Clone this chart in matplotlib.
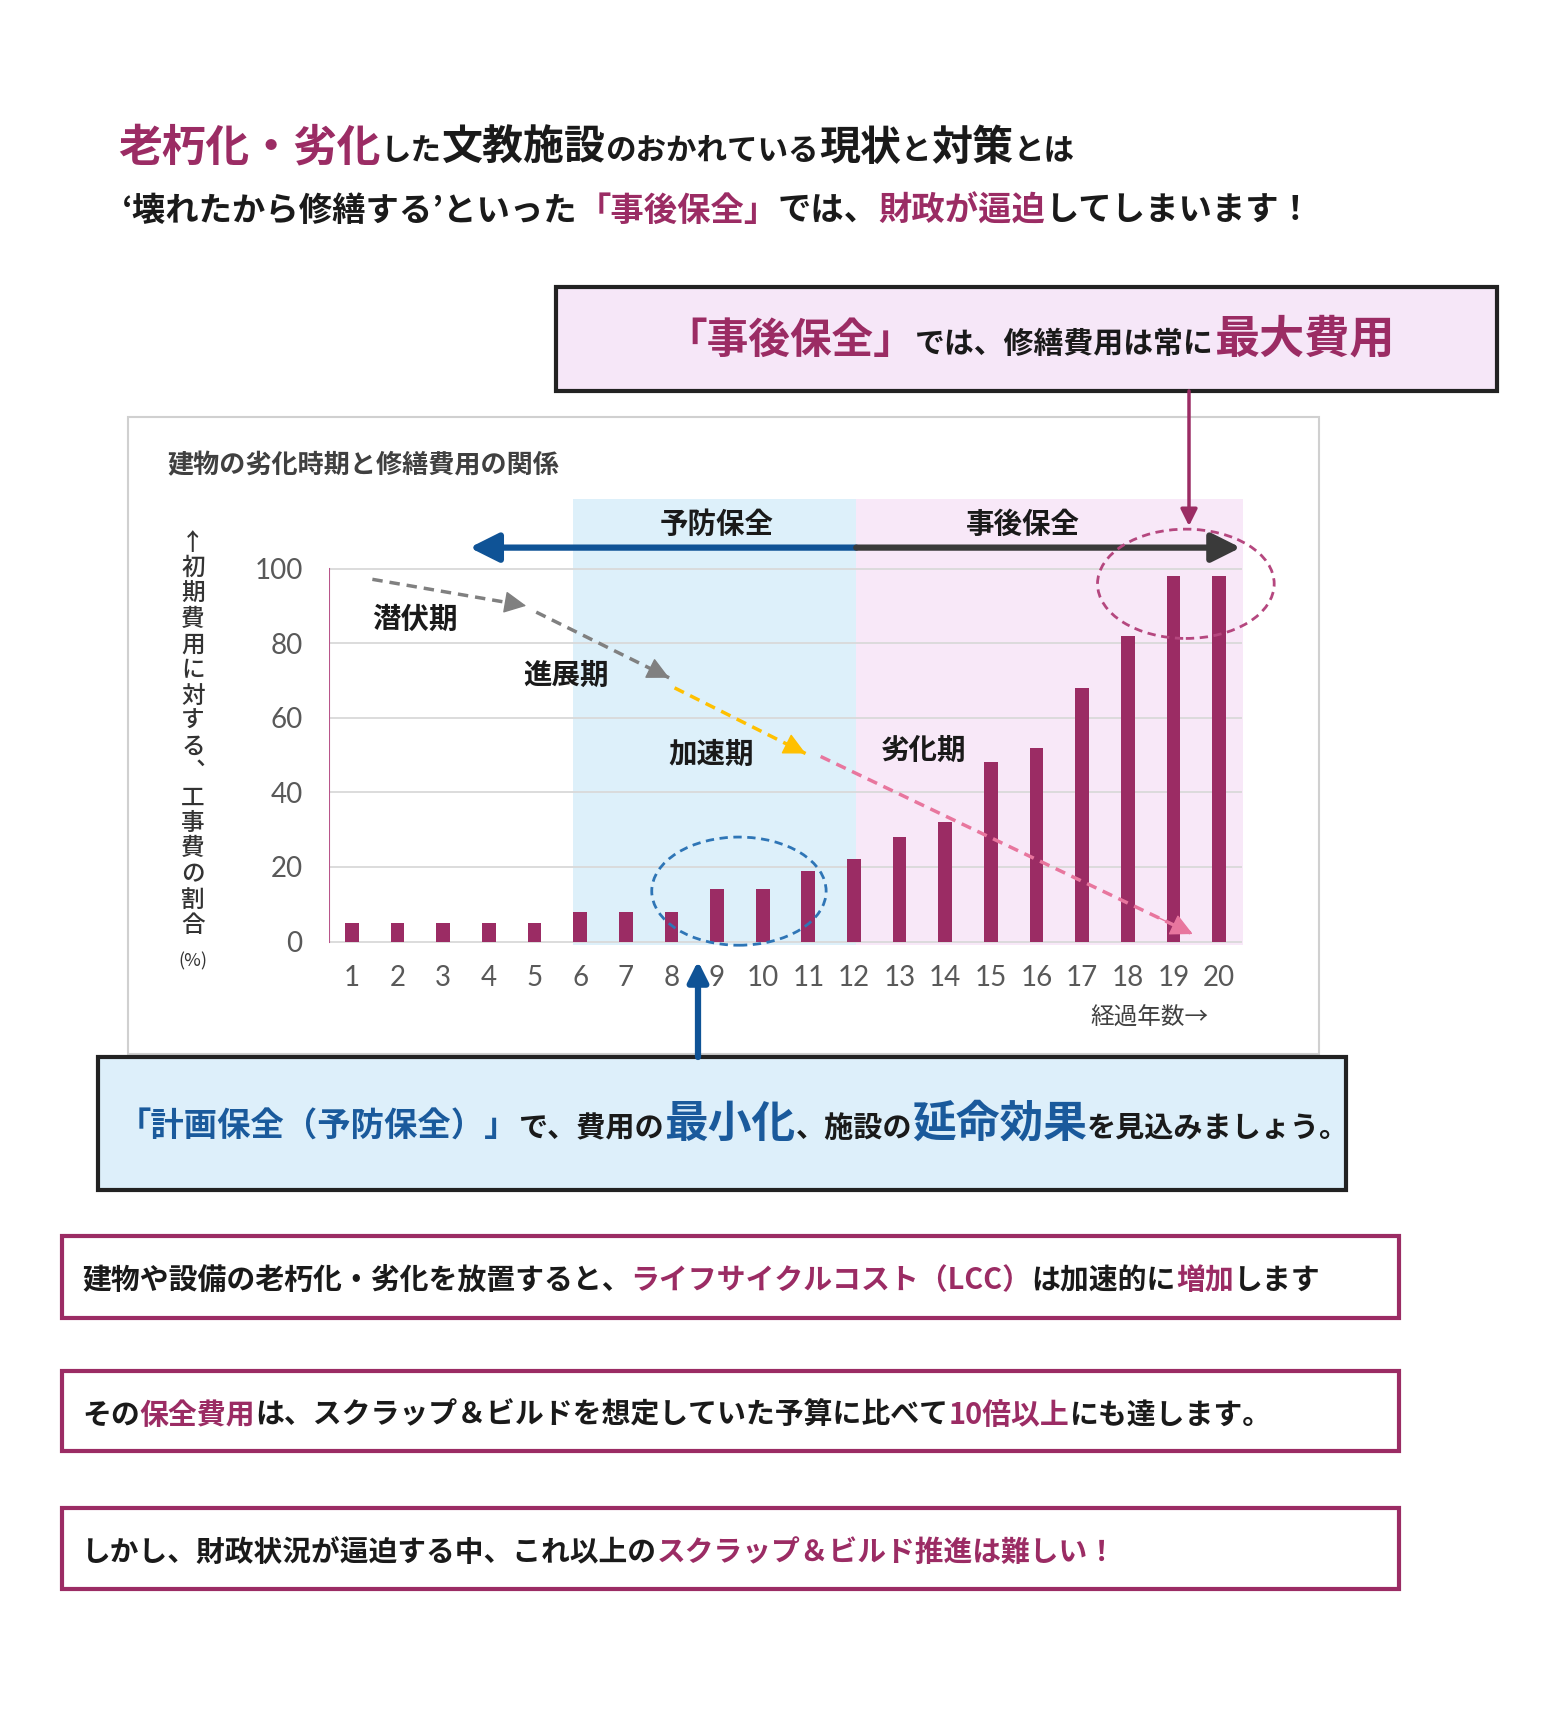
import matplotlib
matplotlib.use('Agg')
import matplotlib.pyplot as plt
from matplotlib.patches import Rectangle, Ellipse, FancyArrowPatch

# Figure size in pixels (dpi = 100)
W, H = 1558, 1712

# Chart data: years elapsed and repair cost as % of the initial cost
years = [1, 2, 3, 4, 5, 6, 7, 8, 9, 10, 11, 12, 13, 14, 15, 16, 17, 18, 19, 20]
cost_ratio = [5, 5, 5, 5, 5, 8, 8, 8, 14, 14, 19, 22, 28, 32, 48, 52, 68, 82, 98, 98]
y_ticks = [0, 20, 40, 60, 80, 100]
phase_names = ['潜伏期', '進展期', '加速期', '劣化期']
maintenance_names = ['予防保全', '事後保全']
y_label = '↑初期費用に対する︑工事費の割合'

MAGENTA = '#9B2C64'
BLUE = '#1A5A9C'
BLACK = '#1A1A1A'
GREY = '#404040'

plt.rcParams['font.family'] = ['Noto Sans CJK JP', 'DejaVu Sans']

fig = plt.figure(figsize=(W / 100, H / 100), dpi=100)
renderer = fig.canvas.get_renderer()


# pixel -> figure fraction
def fx(x):
    return x / W


def fy(y):
    return 1 - y / H


def draw_runs(x, y, parts, align='left'):
    # Draw a line of text made of differently coloured / sized pieces
    texts = []
    for s, color, size in parts:
        t = fig.text(0, fy(y), s, color=color, fontsize=size, fontweight='bold',
                     va='baseline', ha='left', zorder=5)
        texts.append(t)
    widths = [t.get_window_extent(renderer).width for t in texts]
    if align == 'center':
        x = x - sum(widths) / 2
    for t, w in zip(texts, widths):
        t.set_x(fx(x))
        x += w


def box(x0, y0, x1, y1, fc, ec, lw, z=2):
    fig.add_artist(Rectangle((fx(x0), fy(y1)), (x1 - x0) / W, (y1 - y0) / H,
                             transform=fig.transFigure, fc=fc, ec=ec, lw=lw, zorder=z))


def fig_arrow(x0, y0, x1, y1, color, lw, scale):
    fig.add_artist(FancyArrowPatch((fx(x0), fy(y0)), (fx(x1), fy(y1)), transform=fig.transFigure,
                                   arrowstyle='-|>', mutation_scale=scale, lw=lw, color=color,
                                   shrinkA=0, shrinkB=0, zorder=4))


def dashed_arrow(ax, start, end, color):
    # dashed shaft + solid filled head
    ax.plot([start[0], end[0]], [start[1], end[1]], color=color, lw=2.5,
            ls=(0, (3, 2)), zorder=4)
    near = (start[0] + 0.9 * (end[0] - start[0]), start[1] + 0.9 * (end[1] - start[1]))
    ax.annotate('', xy=end, xytext=near,
                arrowprops=dict(arrowstyle='-|>,head_length=0.7,head_width=0.35', color=color,
                                lw=1, mutation_scale=20, shrinkA=0, shrinkB=0), zorder=4)


def main():
    # --- Headline ---
    draw_runs(118, 160, [('老朽化・劣化', MAGENTA, 31.5), ('した', BLACK, 22), ('文教施設', BLACK, 29.5),
                         ('のおかれている', BLACK, 22), ('現状', BLACK, 29.5), ('と', BLACK, 22),
                         ('対策', BLACK, 29.5), ('とは', BLACK, 22)])
    draw_runs(122, 221, [('‘壊れたから修繕する’といった', BLACK, 24), ('「事後保全」', MAGENTA, 24),
                         ('では、', BLACK, 24), ('財政が逼迫', MAGENTA, 24),
                         ('してしまいます！', BLACK, 24)])

    # --- Top callout box ---
    box(556, 287, 1497, 391, '#F6E7F8', '#222222', 3)
    draw_runs(1030, 353, [('「事後保全」', MAGENTA, 30), ('では、修繕費用は常に', BLACK, 21.5),
                          ('最大費用', MAGENTA, 32.5)], align='center')

    # --- Chart frame and title ---
    box(128, 417, 1319, 1054, 'white', '#D0D0D0', 1.5, z=-1)
    fig.text(fx(167), fy(466), '建物の劣化時期と修繕費用の関係', fontsize=18.8, fontweight='bold',
             color=GREY, va='center', ha='left')
    # vertical y-axis caption, one character per cell
    for i, ch in enumerate(y_label):
        fig.text(fx(193), fy(543 + i * 25.5), ch, fontsize=17, color='#333333',
                 fontweight='medium', ha='center', va='center')
    fig.text(fx(193), fy(961), '(%)', fontsize=13, color='#333333', ha='center', va='center')

    # --- Bar chart axes ---
    y_lo, y_hi = -3, 122
    y0_px, unit_px = 941.5, 3.73
    bottom_px = y0_px - y_lo * unit_px
    top_px = y0_px - y_hi * unit_px
    ax = fig.add_axes([fx(329), fy(bottom_px), 913 / W, (bottom_px - top_px) / H])
    ax.set_facecolor('none')
    ax.set_xlim(0.5, 20.5)
    ax.set_ylim(y_lo, y_hi)
    for s in ax.spines.values():
        s.set_visible(False)

    # maintenance periods (shaded)
    ax.fill_between([5.85, 12.05], -1, 118.5, color='#DDF0FA', lw=0, zorder=0)
    ax.fill_between([12.05, 20.6], -1, 118.5, color='#F8E8F8', lw=0, zorder=0)

    ax.hlines(y_ticks, 0.5, 20.5, color='#D9D9D9', lw=1.3, zorder=1)
    ax.plot([0.5, 0.5], [0, 100], color='#B8558A', lw=1.5, zorder=2)
    ax.bar(years, cost_ratio, width=0.3, color=MAGENTA, zorder=3)

    ax.set_yticks(y_ticks)
    ax.set_yticklabels([str(v) for v in y_ticks], fontfamily='Lato')
    ax.set_xticks(years)
    ax.set_xticklabels([str(v) for v in years], fontfamily='Lato')
    ax.tick_params(axis='y', length=0, pad=19, labelsize=20, labelcolor='#595959')
    ax.tick_params(axis='x', length=0, pad=9, labelsize=20, labelcolor='#595959')
    ax.text(19.77, -20.5, '経過年数→', fontsize=17, color=GREY, ha='right', va='center')

    # preventive / reactive maintenance arrows
    ax.annotate('', xy=(3.58, 105.6), xytext=(12.05, 105.6),
                arrowprops=dict(arrowstyle='-|>,head_length=0.7,head_width=0.35', color='#0F5396',
                                lw=4.5, mutation_scale=25, shrinkA=0, shrinkB=0), zorder=4)
    ax.annotate('', xy=(20.47, 105.6), xytext=(12.05, 105.6),
                arrowprops=dict(arrowstyle='-|>,head_length=0.7,head_width=0.35', color='#3A3A3A',
                                lw=4.5, mutation_scale=25, shrinkA=0, shrinkB=0), zorder=4)
    ax.text(9.0, 111.7, maintenance_names[0], fontsize=20.5, fontweight='bold', color=BLACK,
            ha='center', va='center')
    ax.text(15.69, 111.7, maintenance_names[1], fontsize=20.5, fontweight='bold', color=BLACK,
            ha='center', va='center')

    # deterioration phase arrows
    segs = [((1.45, 97.1), (4.82, 90.0), '#808080'),
            ((5.04, 88.3), (7.95, 70.7), '#808080'),
            ((8.07, 68.0), (10.94, 50.4), '#FFC000'),
            ((11.27, 49.6), (19.42, 2.0), '#E8769E')]
    for start, end, c in segs:
        dashed_arrow(ax, start, end, c)
    label_pos = [(2.39, 86.2), (5.7, 71.3), (8.88, 50.1), (13.52, 51.0)]
    for name, (px, py) in zip(phase_names, label_pos):
        ax.text(px, py, name, fontsize=20.5, fontweight='bold', color=BLACK,
                ha='center', va='center', zorder=5)

    # dashed highlight ellipses
    ax.add_patch(Ellipse((9.48, 13.5), 3.82, 29, fill=False, ec='#2E75B6', lw=2,
                         ls=(0, (3, 2)), zorder=4, clip_on=False))
    ax.add_patch(Ellipse((19.27, 95.9), 3.87, 29.3, fill=False, ec='#B5477F', lw=2,
                         ls=(0, (3, 2)), zorder=4, clip_on=False))

    # arrows linking the callout boxes to the chart
    fig_arrow(1189, 391, 1189, 526, MAGENTA, 2.5, 25)
    fig_arrow(698, 1057, 698, 961, '#0F5396', 4.5, 30)

    # --- Bottom blue callout ---
    box(98, 1057, 1346, 1190, '#DDEFFA', '#222222', 3)
    draw_runs(118, 1137, [('「計画保全（予防保全）」', BLUE, 24), ('で、費用の', BLACK, 21),
                          ('最小化', BLUE, 31.5), ('、施設の', BLACK, 21), ('延命効果', BLUE, 31.5),
                          ('を見込みましょう。', BLACK, 21)])

    # --- Three message boxes ---
    box(62, 1236, 1399, 1318, 'white', MAGENTA, 3)
    draw_runs(82, 1289, [('建物や設備の老朽化・劣化を放置すると、', BLACK, 20.8),
                         ('ライフサイクルコスト（LCC）', MAGENTA, 20.8), ('は加速的に', BLACK, 20.8),
                         ('増加', MAGENTA, 20.8), ('します', BLACK, 20.8)])
    box(62, 1371, 1399, 1451, 'white', MAGENTA, 3)
    draw_runs(82, 1424, [('その', BLACK, 20.8), ('保全費用', MAGENTA, 20.8),
                         ('は、スクラップ＆ビルドを想定していた予算に比べて', BLACK, 20.8),
                         ('10倍以上', MAGENTA, 20.8), ('にも達します。', BLACK, 20.8)])
    box(62, 1508, 1399, 1589, 'white', MAGENTA, 3)
    draw_runs(82, 1561, [('しかし、財政状況が逼迫する中、これ以上の', BLACK, 20.7),
                         ('スクラップ＆ビルド推進は難しい！', MAGENTA, 20.7)])

    fig.savefig('out.png', dpi=100, facecolor='white')


if __name__ == "__main__":
    main()
